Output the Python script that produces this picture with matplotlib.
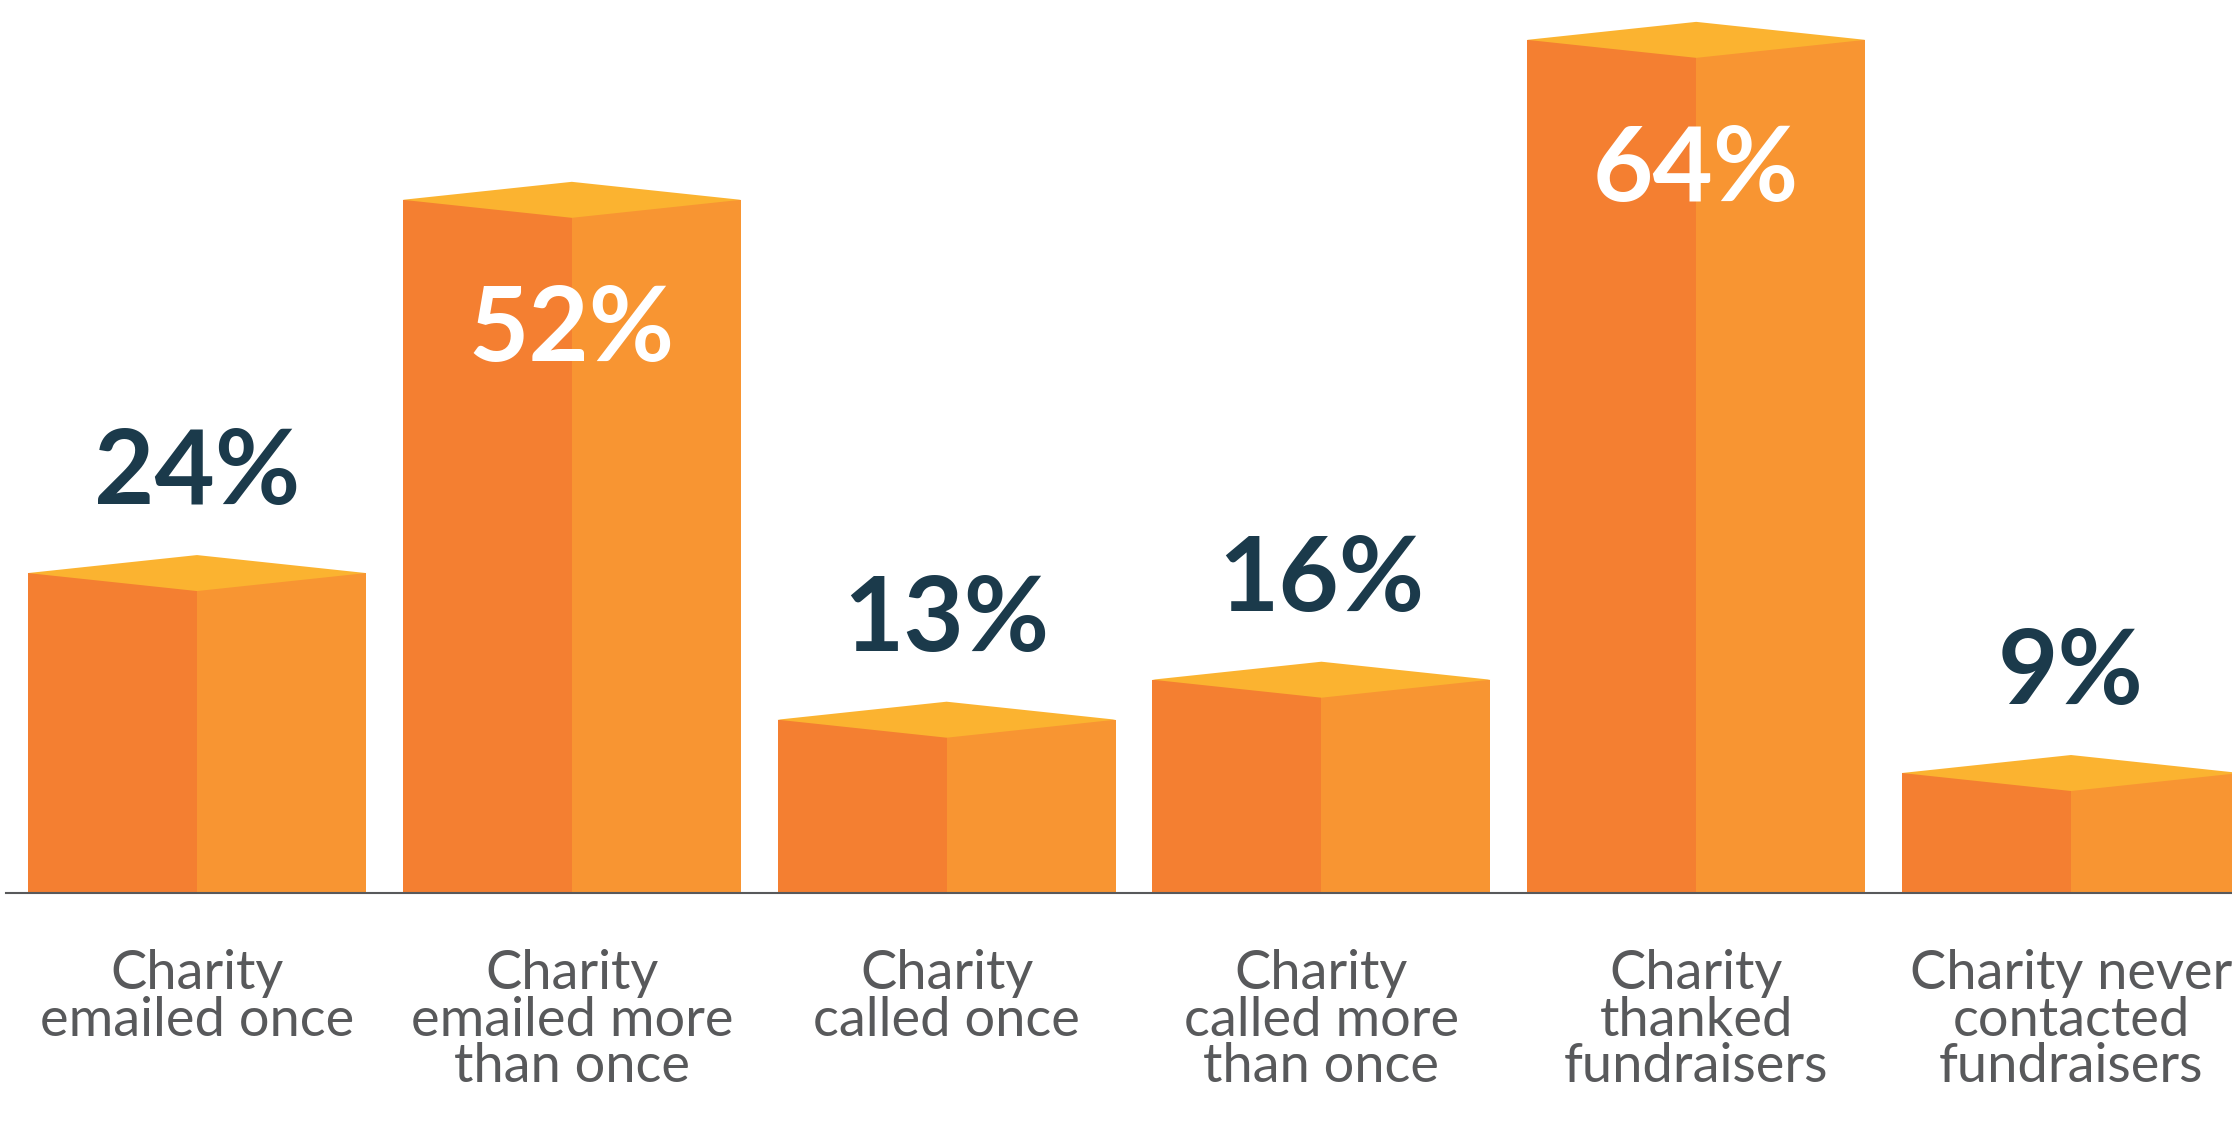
import matplotlib.pyplot as plt
import numpy as np

# survey results, percent
categories = ["Charity\nemailed once", "Charity\nemailed more\nthan once",
              "Charity\ncalled once", "Charity\ncalled more\nthan once",
              "Charity\nthanked\nfundraisers", "Charity never\ncontacted\nfundraisers"]
values = [24, 52, 13, 16, 64, 9]
value_labels = ["24%", "52%", "13%", "16%", "64%", "9%"]

LEFT = "#F47F31"
RIGHT = "#F89532"
TOP = "#FBB330"
NAVY = "#1B3A4B"
GREY = "#58595B"

fig = plt.figure(figsize=(22.32, 11.22), dpi=100)
ax = fig.add_axes([0, 0, 1, 1])
ax.set_xlim(-0.5256, 5.4296)
ax.set_ylim(-17.18, 66.99)
ax.axis("off")

x = np.arange(len(values))
hw = 0.451      # half width of a bar
dy = 1.35       # half height of the top diamond

ax.bar(x - hw / 2, values, width=hw, color=LEFT, linewidth=0)
ax.bar(x + hw / 2, values, width=hw, color=RIGHT, linewidth=0)
for xi, v in zip(x, values):
    ax.fill([xi - hw, xi, xi + hw, xi], [v, v + dy, v, v - dy],
            color=TOP, linewidth=0)

ax.axhline(0, xmin=6 / 2232, xmax=1, color=GREY, lw=1.5)

for xi, v, lab in zip(x, values, value_labels):
    if v > 40:
        ax.text(xi, v - 9.85, lab, ha="center", va="center", color="white",
                fontsize=75, fontweight="bold", family="Lato")
    else:
        ax.text(xi, v + 7.4, lab, ha="center", va="center", color=NAVY,
                fontsize=75, fontweight="bold", family="Lato")

for xi, cat in zip(x, categories):
    ax.text(xi, -4.2, cat, ha="center", va="top", color=GREY,
            fontsize=39, family="Lato", linespacing=0.94)

fig.savefig("out.png", dpi=100)
